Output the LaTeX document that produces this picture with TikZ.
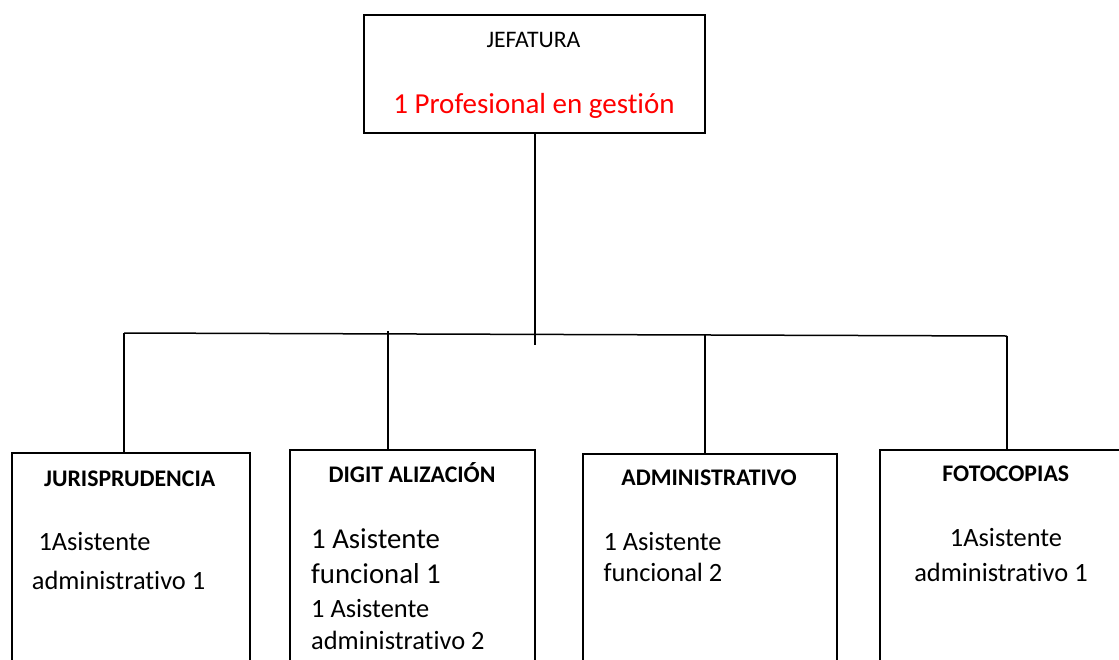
\documentclass[tikz,border=0pt]{standalone}
\usepackage{fontspec}
\setmainfont[Ligatures=NoCommon]{Carlito}

\tikzset{
    unit/.style={draw, rectangle, line width=1.8pt, anchor=north west, inner sep=0pt},
    head/.style={anchor=base, inner sep=0pt, font=\fontsize{23.8}{28}\selectfont\bfseries},
    staff/.style={anchor=base west, inner sep=0pt, font=\fontsize{26.4}{30}\selectfont},
    link/.style={line width=1.5pt}
}

\begin{document}
\begin{tikzpicture}[x=1pt, y=-1pt]
    \useasboundingbox (0,0) rectangle (1119,659);
    \clip (0,0) rectangle (1119,659);

    % Jefatura box
    \node[unit, minimum width=341pt, minimum height=118pt] (jefe) at (363,14) {};
    \node[anchor=base, inner sep=0pt, font=\fontsize{23.7}{28}\selectfont] (jefetit) at (533.5,47.7) {JEFATURA};
    \node[anchor=base, inner sep=0pt, text=red, font=\fontsize{29}{34}\selectfont] (jefepro) at (534,113.3) {1 Profesional en gestión};

    % Area boxes (cut off at the bottom)
    \node[unit, minimum width=238pt, minimum height=260pt] (juris) at (11,452) {};
    \node[unit, minimum width=245pt, minimum height=260pt] (digit) at (289,449) {};
    \node[unit, minimum width=254pt, minimum height=260pt] (admin) at (582,453) {};
    \node[unit, minimum width=300pt, minimum height=260pt] (foto) at (879,449) {};

    % Jurisprudencia
    \node[head] (juristit) at (129.7,486) {JURISPRUDENCIA};
    \node[staff] (juris1) at (38.3,550) {1Asistente};
    \node[staff] (juris2) at (31.7,589) {administrativo 1};

    % Digitalizacion
    \node[head] (digittit) at (412,482.7) {DIGIT ALIZACIÓN};
    \node[staff, font=\fontsize{28.8}{32}\selectfont] (digit1) at (311,548) {1 Asistente};
    \node[staff, font=\fontsize{28.8}{32}\selectfont] (digit2) at (311,583) {funcional 1};
    \node[staff] (digit3) at (311,617) {1 Asistente};
    \node[staff] (digit4) at (311,649) {administrativo 2};

    % Administrativo
    \node[head] (admintit) at (709,485) {ADMINISTRATIVO};
    \node[staff] (admin1) at (603.3,550) {1 Asistente};
    \node[staff] (admin2) at (603.3,581.7) {funcional 2};

    % Fotocopias
    \node[head] (fototit) at (1005.8,481.7) {FOTOCOPIAS};
    \node[staff, anchor=base] (foto1) at (1006,546) {1Asistente};
    \node[staff, anchor=base] (foto2) at (1001,581.7) {administrativo 1};

    % Bus line
    \coordinate (jefeend) at (535,345);
    \coordinate (busL) at (124,333);
    \coordinate (busR) at (1007,336);
    \coordinate (digitup) at (388,331);
    \coordinate (adminup) at (705,335);

    \draw[link] (jefe.south -| jefeend) -- (jefeend);
    \draw[link] (busL) -- (busR);

    % Drops to the areas
    \draw[link] (busL) -- (busL |- juris.north);
    \draw[link] (digitup) -- (digitup |- digit.north);
    \draw[link] (adminup) -- (adminup |- admin.north);
    \draw[link] (busR) -- (busR |- foto.north);

\end{tikzpicture}
\end{document}
